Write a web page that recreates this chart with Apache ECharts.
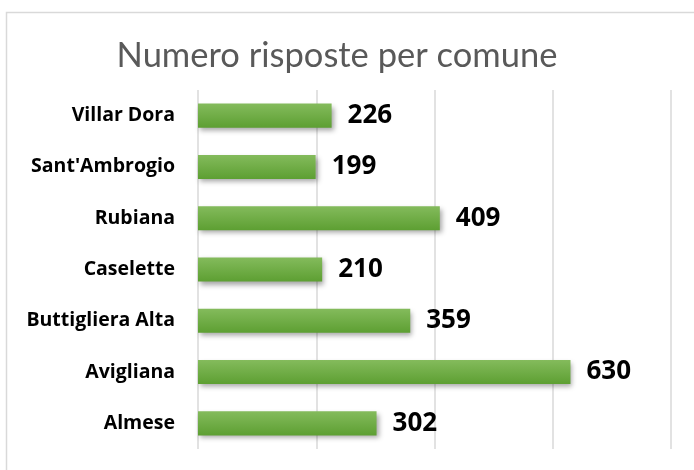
<!DOCTYPE html>
<html>
<head>
<meta charset="utf-8">
<script src="https://cdn.jsdelivr.net/npm/echarts@6/dist/echarts.min.js"></script>
<style>
  html, body { margin: 0; padding: 0; background: #fff; }
  #chart { width: 694px; height: 470px; }
</style>
</head>
<body>
<div id="chart"></div>
<script>
// data, bottom to top as drawn on the category axis
const comuni = ['Almese', 'Avigliana', 'Buttigliera Alta', 'Caselette', 'Rubiana', "Sant'Ambrogio", 'Villar Dora'];
const risposte = [302, 630, 359, 210, 409, 199, 226];
const titolo = 'Numero risposte per comune';

const chart = echarts.init(document.getElementById('chart'));

const option = {
    animation: false,
    graphic: [
        {
            type: 'rect',
            shape: { x: 6.5, y: 12.5, width: 720, height: 500 },
            style: { fill: 'none', stroke: '#d9d9d9', lineWidth: 1.5 },
            silent: true
        }
    ],
    title: {
        text: titolo,
        left: 332,
        textAlign: 'center',
        top: 33,
        textStyle: {
            fontFamily: 'Lato',
            fontWeight: 'normal',
            fontSize: 34.5,
            color: '#595959'
        }
    },
    grid: {
        left: 198,
        right: 694 - 671,
        top: 90,
        bottom: 470 - 449,
        containLabel: false
    },
    xAxis: {
        type: 'value',
        min: 0,
        max: 800,
        interval: 200,
        axisLabel: { show: false },
        axisLine: { show: false },
        axisTick: { show: false },
        splitLine: { lineStyle: { color: '#d9d9d9', width: 1.5 } }
    },
    yAxis: {
        type: 'category',
        data: comuni,
        axisLine: { show: false },
        axisTick: { show: false },
        axisLabel: {
            margin: 23,
            fontFamily: 'Open Sans',
            fontWeight: 'bold',
            fontSize: 19.5,
            color: '#000'
        }
    },
    series: [
        {
            type: 'bar',
            data: risposte,
            barWidth: '47%',
            itemStyle: {
                color: new echarts.graphic.LinearGradient(0, 0, 0, 1, [
                    { offset: 0, color: '#84bb5c' },
                    { offset: 1, color: '#5d9f32' }
                ]),
                shadowColor: 'rgba(0,0,0,0.35)',
                shadowBlur: 5,
                shadowOffsetX: 2,
                shadowOffsetY: 3
            },
            label: {
                show: true,
                position: 'right',
                distance: 16,
                fontFamily: 'Open Sans',
                fontWeight: 'bold',
                fontSize: 26,
                color: '#000'
            }
        }
    ]
};

option && chart.setOption(option);
</script>
</body>
</html>
